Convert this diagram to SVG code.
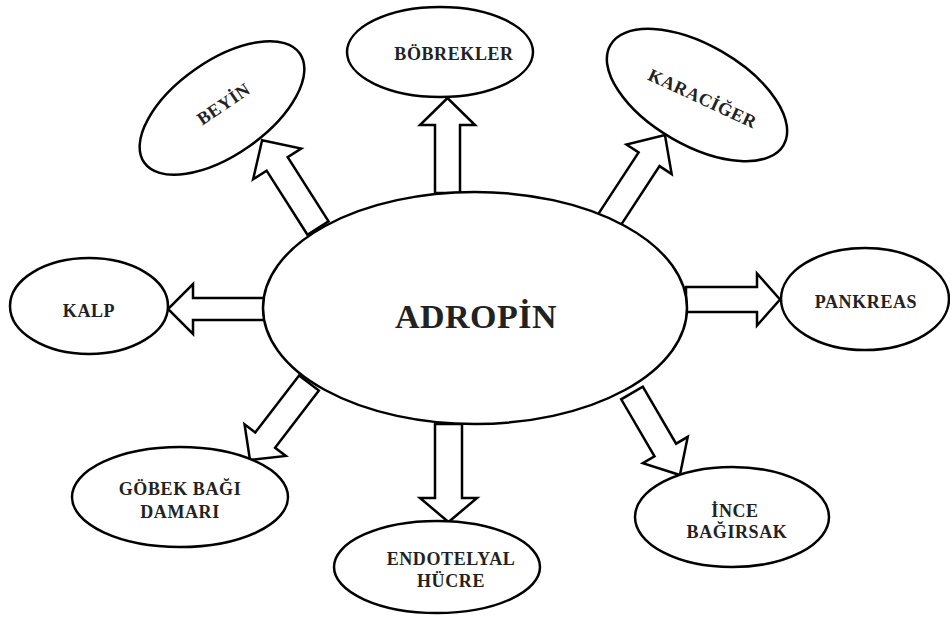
<svg xmlns="http://www.w3.org/2000/svg" width="950" height="617" viewBox="0 0 950 617">
<style>
.n{fill:#fff;stroke:#000;stroke-width:2.5}
.a{fill:#fff;stroke:#000;stroke-width:2.5;stroke-linejoin:miter}
.t{font-family:"Liberation Serif","Times New Roman",serif;font-weight:bold;font-size:18px;fill:#222;text-anchor:middle;letter-spacing:0.6px}
</style>
<rect width="950" height="617" fill="#fff"/>
<g id="connectors">
<path class="a" transform="translate(447.5,193) rotate(-90)" d="M0,-12.5 H68 V-27.5 L95,0 L68,27.5 V12.5 H0 Z"/>
<path class="a" transform="translate(265,309) rotate(180)" d="M0,-11 H72 V-25 L97,0 L72,25 V11 H0 Z"/>
<path class="a" transform="translate(686,299.5)" d="M0,-12.5 H71 V-26 L94,0 L71,26 V12.5 H0 Z"/>
<path class="a" transform="translate(448.5,424) rotate(90)" d="M0,-13.5 H74 V-28.5 L98,0 L74,28.5 V13.5 H0 Z"/>
<path class="a" transform="translate(318,228) rotate(-122.5)" d="M0,-12.5 H76 V-28.5 L104,0 L76,28.5 V12.5 H0 Z"/>
<path class="a" transform="translate(608,222) rotate(-56.8)" d="M0,-12.5 H75 V-27 L104,0 L75,27 V12.5 H0 Z"/>
<path class="a" transform="translate(309,383) rotate(127.5)" d="M0,-12.5 H72 V-26 L97,0 L72,26 V12.5 H0 Z"/>
<path class="a" transform="translate(632,393) rotate(59.7)" d="M0,-12.5 H66 V-26 L95,0 L66,26 V12.5 H0 Z"/>
</g>
<g id="adropin">
<ellipse class="n" cx="475" cy="308" rx="212" ry="116"/>
<text class="t" x="476" y="328" style="font-size:34px;letter-spacing:0.5px">ADROPİN</text>
</g>
<g id="bobrekler">
<ellipse class="n" cx="440" cy="52" rx="93" ry="45"/>
<text class="t" x="454" y="60">BÖBREKLER</text>
</g>
<g id="beyin">
<ellipse class="n" cx="222" cy="108" rx="95" ry="47" transform="rotate(-35 222 108)"/>
<text class="t" transform="translate(227,109) rotate(-34)">BEYİN</text>
</g>
<g id="karaciger">
<ellipse class="n" cx="697" cy="95" rx="100" ry="50" transform="rotate(30 697 95)"/>
<text class="t" transform="translate(700,104) rotate(25)">KARACİĞER</text>
</g>
<g id="kalp">
<ellipse class="n" cx="89" cy="306" rx="79" ry="48"/>
<text class="t" x="89" y="317">KALP</text>
</g>
<g id="pankreas">
<ellipse class="n" cx="865" cy="299" rx="84" ry="51"/>
<text class="t" x="866" y="308">PANKREAS</text>
</g>
<g id="gobek">
<ellipse class="n" cx="180" cy="497" rx="108" ry="50"/>
<text class="t" x="180" y="495">GÖBEK BAĞI</text>
<text class="t" x="180" y="518">DAMARI</text>
</g>
<g id="endotelyal">
<ellipse class="n" cx="437" cy="567" rx="103" ry="46"/>
<text class="t" x="451" y="565">ENDOTELYAL</text>
<text class="t" x="451" y="587">HÜCRE</text>
</g>
<g id="ince">
<ellipse class="n" cx="732" cy="517" rx="97" ry="50"/>
<text class="t" x="735" y="517">İNCE</text>
<text class="t" x="737" y="538">BAĞIRSAK</text>
</g>
</svg>
